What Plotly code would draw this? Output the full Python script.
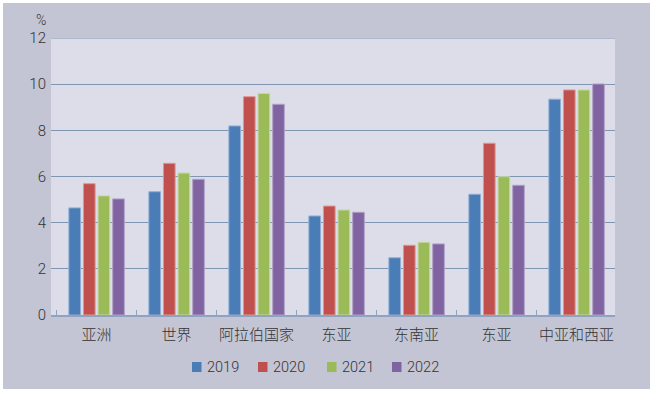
import plotly.graph_objects as go

categories = ["亚洲", "世界", "阿拉伯国家", "东亚", "东南亚", "东亚", "中亚和西亚"]
years = ["2019", "2020", "2021", "2022"]
v2019 = [4.64, 5.34, 8.19, 4.29, 2.48, 5.23, 9.35]
v2020 = [5.69, 6.57, 9.46, 4.72, 3.02, 7.44, 9.75]
v2021 = [5.16, 6.15, 9.60, 4.55, 3.15, 5.99, 9.75]
v2022 = [5.03, 5.88, 9.13, 4.45, 3.08, 5.62, 10.01]
yticks = [0, 2, 4, 6, 8, 10, 12]

series = [v2019, v2020, v2021, v2022]
colors = ["#4A7DB5", "#C0504D", "#9BBB59", "#8064A2"]
borders = ["#8FAFD3", "#DC9896", "#C6D8A5", "#B3A2C8"]

xpos = list(range(len(categories)))

fig = go.Figure()
for name, vals, c, b in zip(years, series, colors, borders):
    fig.add_trace(go.Bar(
        x=xpos, y=vals, name=name, showlegend=False,
        marker=dict(color=c, line=dict(color=b, width=1)),
    ))

W, H = 657, 393
L, R, T, B = 51, 42, 38, 78
pw, ph = W - L - R, H - T - B

def px_x(p):
    return (p - L) / pw

def px_y(p):
    return (H - B - p) / ph

def frame(x0, y0, x1, y1, color="white"):
    return dict(type="rect", xref="paper", yref="paper", layer="above",
                x0=px_x(x0), x1=px_x(x1), y0=px_y(y1), y1=px_y(y0),
                fillcolor=color, line=dict(width=0))

shapes = [
    frame(0, 0, W, 3),
    frame(0, 0, 3, H),
    frame(650, 0, W, H),
    frame(0, 389, W, H),
    dict(type="line", xref="paper", yref="y", x0=0, x1=1, y0=yticks[-1], y1=yticks[-1],
         line=dict(color="#7F96B2", width=1)),
]

# legend (manual, compact like the reference)
legend_x = [192, 258, 327, 392]
legend_y = 367
annotations = [dict(
    text="%", xref="paper", yref="paper",
    x=px_x(41), y=px_y(20), xanchor="center", yanchor="middle",
    showarrow=False, font=dict(family="Roboto, sans-serif", size=14, color="#333333", weight=300),
)]
for lx, name, c in zip(legend_x, years, colors):
    shapes.append(frame(lx, legend_y - 5, lx + 9.5, legend_y + 5, color=c))
    annotations.append(dict(
        text=name, xref="paper", yref="paper",
        x=px_x(lx + 13), y=px_y(legend_y), xanchor="left", yanchor="middle",
        showarrow=False, font=dict(family="Roboto, sans-serif", size=14.5, color="#333333", weight=300),
    ))

fig.update_layout(
    width=W, height=H,
    margin=dict(l=L, r=R, t=T, b=B, autoexpand=False),
    paper_bgcolor="#C3C5D5",
    plot_bgcolor="#DCDDE8",
    barmode="group",
    bargap=0.27,
    bargroupgap=0.2,
    font=dict(family="Noto Sans CJK SC, Roboto, sans-serif", color="#333333", size=14),
    showlegend=False,
    shapes=shapes,
    annotations=annotations,
)

fig.update_xaxes(
    range=[-0.57, 6.48],
    tickmode="array", tickvals=xpos, ticktext=categories,
    ticks="", showgrid=False, zeroline=False,
    showline=True, linecolor="#8FA3C0", linewidth=1.5,
    tickfont=dict(family="Noto Sans CJK SC, sans-serif", size=15, color="#333333", weight=300),
    ticklabelstandoff=5,
    minor=dict(tickmode="array", tickvals=[-0.5 + i for i in range(8)],
               ticks="inside", ticklen=5, tickcolor="#8FA3C0", showgrid=False),
    fixedrange=True,
)
fig.update_yaxes(
    range=[0, 12],
    tickmode="array", tickvals=yticks, ticktext=[str(v) for v in yticks],
    showgrid=True, gridcolor="#7F96B2", gridwidth=1,
    zeroline=False, showline=False, ticks="",
    tickfont=dict(family="Roboto, sans-serif", size=15, color="#333333", weight=300),
    ticklabelstandoff=4,
    fixedrange=True,
)

fig.write_html("out.html", config={"displayModeBar": False},
               post_script="document.body.style.margin='0';document.body.style.padding='0';")
